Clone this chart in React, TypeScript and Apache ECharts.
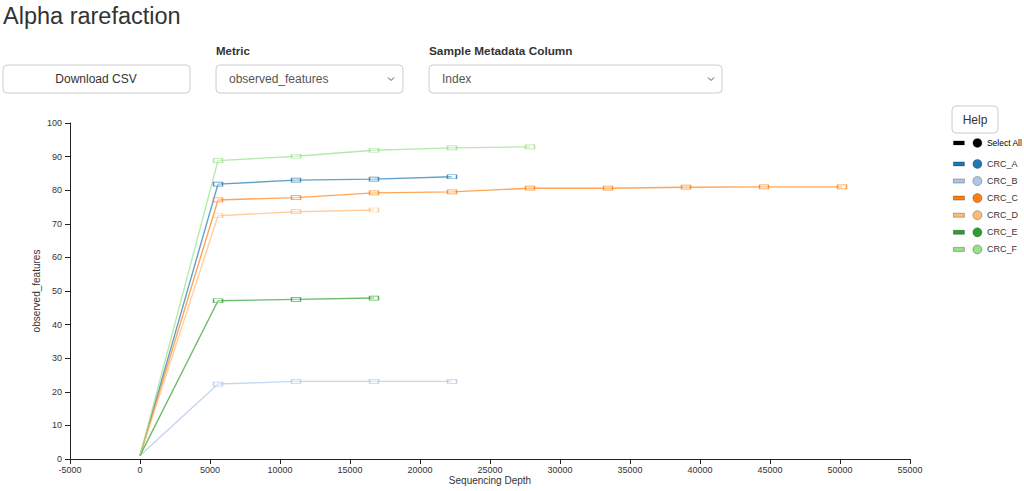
import React, { useEffect, useRef } from "react";
import * as echarts from "echarts";

const depths = [1, 5572, 11143, 16715, 22286, 27858, 33429, 39000, 44572, 50143];
const sampleNames = ["CRC_A", "CRC_B", "CRC_C", "CRC_D", "CRC_E", "CRC_F"];
const sampleColors = ["#1f77b4", "#aec7e8", "#ff7f0e", "#ffbb78", "#2ca02c", "#98df8a"];
const crcA = [1, 81.8, 83.0, 83.3, 84.0];
const crcB = [1, 22.3, 23.1, 23.1, 23.1];
const crcC = [1, 77.1, 77.8, 79.2, 79.5, 80.6, 80.6, 80.9, 81.0, 81.0];
const crcD = [1, 72.4, 73.6, 74.1];
const crcE = [1, 47.1, 47.5, 47.9];
const crcF = [1, 88.8, 90.1, 91.9, 92.6, 92.9];
const sampleValues = [crcA, crcB, crcC, crcD, crcE, crcF];

const FONT = "'Liberation Sans', Arial, Helvetica, sans-serif";

export default function App() {
  const ref = useRef<HTMLDivElement>(null);
  useEffect(() => {
    if (!ref.current) return;
    const chart = echarts.init(ref.current, null, { renderer: "svg" });
    const series: any[] = [];
    sampleNames.forEach((name, i) => {
      const c = sampleColors[i];
      const data = sampleValues[i].map((v, j) => [depths[j], v]);
      series.push({
        type: "line",
        name,
        data,
        symbol: "none",
        itemStyle: { color: c },
        lineStyle: { color: c, width: 1.4, opacity: 0.7 },
        z: 2,
      });
      series.push({
        type: "scatter",
        name,
        data: data.slice(1),
        symbol: "rect",
        symbolSize: [9, 4],
        itemStyle: { color: "rgba(255,255,255,0.4)", borderColor: c, borderWidth: 1, opacity: 0.8 },
        z: 3,
      });
    });
    series.push({
      type: "line",
      name: "Select All",
      data: [],
      itemStyle: { color: "#000" },
      lineStyle: { color: "#000" },
    });

    const legendIcon = "path://M0,2.5 L11,2.5 L11,6.5 L0,6.5 Z M24,0 A4.5,4.5 0 1,1 23.99,0 Z";

    const chevron = (cx: number, cy: number) => ({
      type: "polyline",
      shape: { points: [[cx - 3, cy - 1.5], [cx, cy + 1.5], [cx + 3, cy - 1.5]] },
      style: { stroke: "#555", lineWidth: 1, fill: null },
    });
    const box = (x: number, y: number, w: number, h: number) => ({
      type: "rect",
      shape: { x, y, width: w, height: h, r: 4 },
      style: { fill: "#fff", stroke: "#ccc", lineWidth: 1 },
    });

    chart.setOption({
      animation: false,
      textStyle: { fontFamily: FONT },
      grid: { left: 70, right: 114, top: 123, bottom: 32, outerBoundsMode: "none", containLabel: false },
      xAxis: {
        type: "value",
        min: -5000,
        max: 55000,
        interval: 5000,
        name: "Sequencing Depth",
        nameLocation: "middle",
        nameGap: 16,
        nameMoveOverlap: false,
        nameTextStyle: { fontSize: 10, color: "#333", fontFamily: FONT },
        axisLine: { show: true, onZero: false, lineStyle: { color: "#222", width: 1 } },
        axisTick: { show: true, length: 5, lineStyle: { color: "#222" } },
        axisLabel: { fontSize: 9, color: "#333", margin: 6, fontFamily: FONT, formatter: (v: number) => String(v) },
        splitLine: { show: false },
      },
      yAxis: {
        type: "value",
        min: 0,
        max: 100,
        interval: 10,
        name: "observed_features",
        nameLocation: "middle",
        nameGap: 29,
        nameMoveOverlap: false,
        nameTextStyle: { fontSize: 10, color: "#333", fontFamily: FONT },
        axisLine: { show: true, onZero: false, lineStyle: { color: "#222", width: 1 } },
        axisTick: { show: true, length: 5, lineStyle: { color: "#222" } },
        axisLabel: { fontSize: 9, color: "#333", margin: 8, fontFamily: FONT, formatter: (v: number) => String(v) },
        splitLine: { show: false },
      },
      legend: [
        {
          data: ["Select All"],
          orient: "vertical",
          left: 953,
          top: 138,
          padding: 0,
          icon: legendIcon,
          itemWidth: 28.5,
          itemHeight: 9,
          itemGap: 6,
          textStyle: { fontSize: 8.5, color: "#000", fontFamily: FONT },
          itemStyle: { borderColor: "rgba(0,0,0,0.3)", borderWidth: 0.8 },
        },
        {
          data: sampleNames,
          orient: "vertical",
          left: 953,
          top: 159,
          padding: 0,
          icon: legendIcon,
          itemWidth: 28.5,
          itemHeight: 9,
          itemGap: 7.3,
          textStyle: { fontSize: 9, color: "#333", fontFamily: FONT },
          itemStyle: { borderColor: "rgba(0,0,0,0.35)", borderWidth: 0.8 },
        },
      ],
      graphic: [
        {
          type: "text",
          left: 3,
          top: 4,
          style: { text: "Alpha rarefaction", fontSize: 23.5, fill: "#333", fontFamily: FONT },
        },
        box(3, 65, 187, 28),
        {
          type: "text",
          x: 96,
          y: 79,
          style: { text: "Download CSV", fontSize: 12, fill: "#333", align: "center", verticalAlign: "middle", fontFamily: FONT },
        },
        {
          type: "text",
          x: 216,
          y: 51,
          style: { text: "Metric", fontSize: 11.5, fontWeight: "bold", fill: "#333", verticalAlign: "middle", fontFamily: FONT },
        },
        box(216, 65, 187, 28),
        {
          type: "text",
          x: 229,
          y: 79,
          style: { text: "observed_features", fontSize: 12, fill: "#555", verticalAlign: "middle", fontFamily: FONT },
        },
        chevron(391, 79),
        {
          type: "text",
          x: 429,
          y: 51,
          style: { text: "Sample Metadata Column", fontSize: 11.8, fontWeight: "bold", fill: "#333", verticalAlign: "middle", fontFamily: FONT },
        },
        box(429, 65, 293, 28),
        {
          type: "text",
          x: 442,
          y: 79,
          style: { text: "Index", fontSize: 12, fill: "#555", verticalAlign: "middle", fontFamily: FONT },
        },
        chevron(711, 79),
        box(952, 106, 46, 27),
        {
          type: "text",
          x: 975,
          y: 119.5,
          style: { text: "Help", fontSize: 12, fill: "#333", align: "center", verticalAlign: "middle", fontFamily: FONT },
        },
      ],
      series,
    });
    return () => chart.dispose();
  }, []);
  return (
    <div
      ref={ref}
      style={{ position: "fixed", left: 0, top: 0, width: 1024, height: 491, background: "#fff" }}
    />
  );
}
